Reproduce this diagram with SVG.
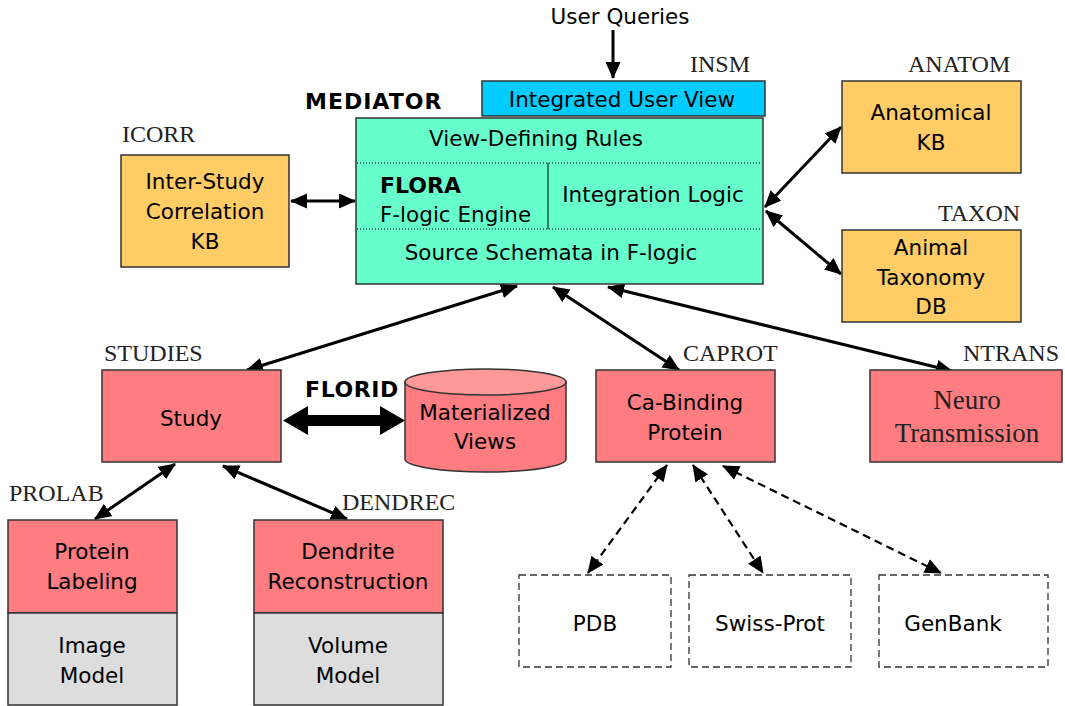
<svg xmlns="http://www.w3.org/2000/svg" width="1065" height="706" viewBox="0 0 1065 706">
<defs>
<style>
.t{font-family:"DejaVu Sans",Verdana,sans-serif;font-size:21.5px;fill:#000;text-anchor:middle}
.b{font-family:"DejaVu Sans",Verdana,sans-serif;font-size:22px;font-weight:bold;fill:#000}
.s{font-family:"Liberation Serif","Times New Roman",serif;font-size:24px;fill:#222}
.box{stroke:#333;stroke-width:1.5}
.or{fill:#FFCC66}
.pk{fill:#FF7C80}
.gy{fill:#DDDDDD}
.dash{fill:#fff;stroke:#333;stroke-width:1.3;stroke-dasharray:7,4}
.c{stroke:#000;stroke-width:3;fill:none}
.cd{stroke:#000;stroke-width:2.2;fill:none;stroke-dasharray:8,5}
.dot{stroke:#000;stroke-width:1;stroke-dasharray:1,2}
</style>
<marker id="ah" markerUnits="userSpaceOnUse" markerWidth="18" markerHeight="16" refX="16" refY="7.5" orient="auto-start-reverse" viewBox="0 0 18 16">
<path d="M0,0 L17,7.5 L0,15 z" fill="#000"/>
</marker>
</defs>

<g id="connectors">
<line class="c" x1="613" y1="30" x2="613" y2="78" marker-end="url(#ah)"/>
<line class="c" x1="291" y1="201" x2="355" y2="201" marker-start="url(#ah)" marker-end="url(#ah)"/>
<line class="c" x1="765" y1="207" x2="841" y2="127" marker-start="url(#ah)" marker-end="url(#ah)"/>
<line class="c" x1="766" y1="211" x2="841" y2="274" marker-start="url(#ah)" marker-end="url(#ah)"/>
<line class="c" x1="517" y1="286" x2="247" y2="370" marker-start="url(#ah)" marker-end="url(#ah)"/>
<line class="c" x1="553" y1="287" x2="679" y2="370" marker-start="url(#ah)" marker-end="url(#ah)"/>
<line class="c" x1="608" y1="287" x2="952" y2="371" marker-start="url(#ah)" marker-end="url(#ah)"/>
<line class="c" x1="175" y1="464" x2="95" y2="519" marker-start="url(#ah)" marker-end="url(#ah)"/>
<line class="c" x1="223" y1="466" x2="347" y2="519" marker-start="url(#ah)" marker-end="url(#ah)"/>
<line class="cd" x1="667" y1="465" x2="588" y2="573" marker-start="url(#ah)" marker-end="url(#ah)"/>
<line class="cd" x1="693" y1="465" x2="763" y2="573" marker-start="url(#ah)" marker-end="url(#ah)"/>
<line class="cd" x1="723" y1="466" x2="941" y2="573" marker-start="url(#ah)" marker-end="url(#ah)"/>
<polygon points="283,420.5 308,406 308,415 380,415 380,406 405,420.5 380,435 380,426 308,426 308,435" fill="#000"/>
</g>

<g id="userqueries">
<text class="t" x="620" y="24">User Queries</text>
</g>

<g id="insm">
<text class="s" x="690" y="72">INSM</text>
<rect class="box" x="482" y="81" width="283" height="35" fill="#00CCFF"/>
<text class="t" x="622" y="107">Integrated User View</text>
</g>

<g id="mediator">
<text class="b" x="305" y="109" style="letter-spacing:1px">MEDIATOR</text>
<rect class="box" x="356" y="118" width="407" height="166" fill="#66FFCC" stroke="#555"/>
<line class="dot" x1="357" y1="163" x2="762" y2="163"/>
<line class="dot" x1="357" y1="229" x2="762" y2="229"/>
<line x1="548" y1="163" x2="548" y2="229" stroke="#000" stroke-width="1"/>
<text class="t" x="536" y="146">View-Defining Rules</text>
<text class="b" x="380" y="193">FLORA</text>
<text class="t" x="380" y="222" style="text-anchor:start">F-logic Engine</text>
<text class="t" x="653" y="202">Integration Logic</text>
<text class="t" x="551" y="260">Source Schemata in F-logic</text>
</g>

<g id="icorr">
<text class="s" x="122" y="142">ICORR</text>
<rect class="box or" x="121" y="155" width="168" height="112"/>
<text class="t" x="205" y="189">Inter-Study</text>
<text class="t" x="205" y="219">Correlation</text>
<text class="t" x="205" y="249">KB</text>
</g>

<g id="anatom">
<text class="s" x="908" y="72">ANATOM</text>
<rect class="box or" x="842" y="81" width="179" height="92"/>
<text class="t" x="931" y="120">Anatomical</text>
<text class="t" x="931" y="150">KB</text>
</g>

<g id="taxon">
<text class="s" x="938" y="221">TAXON</text>
<rect class="box or" x="842" y="230" width="179" height="92"/>
<text class="t" x="931" y="255">Animal</text>
<text class="t" x="931" y="285">Taxonomy</text>
<text class="t" x="931" y="314">DB</text>
</g>

<g id="studies">
<text class="s" x="104" y="361">STUDIES</text>
<rect class="box pk" x="102" y="370" width="179" height="92"/>
<text class="t" x="191" y="426">Study</text>
</g>

<g id="florid">
<text class="b" x="305" y="397" style="letter-spacing:0.6px">FLORID</text>
</g>

<g id="matviews">
<path class="box pk" d="M405,382 L405,459 A80.5,13 0 0 0 566,459 L566,382 Z"/>
<ellipse class="box" cx="485.5" cy="382" rx="80.5" ry="13" fill="#FF9999"/>
<text class="t" x="485" y="420">Materialized</text>
<text class="t" x="485" y="449">Views</text>
</g>

<g id="caprot">
<text class="s" x="683" y="361">CAPROT</text>
<rect class="box pk" x="596" y="370" width="179" height="92"/>
<text class="t" x="685" y="410">Ca-Binding</text>
<text class="t" x="685" y="440">Protein</text>
</g>

<g id="ntrans">
<text class="s" x="963" y="361">NTRANS</text>
<rect class="box pk" x="870" y="370" width="192" height="92"/>
<text class="s" x="967" y="409" style="font-size:27px;text-anchor:middle">Neuro</text>
<text class="s" x="967" y="442" style="font-size:27px;text-anchor:middle">Transmission</text>
</g>

<g id="prolab">
<text class="s" x="9" y="501">PROLAB</text>
<rect class="box pk" x="8" y="520" width="169" height="93"/>
<rect class="box gy" x="8" y="613" width="169" height="92"/>
<text class="t" x="92" y="559">Protein</text>
<text class="t" x="92" y="589">Labeling</text>
<text class="t" x="92" y="653">Image</text>
<text class="t" x="92" y="683">Model</text>
</g>

<g id="dendrec">
<text class="s" x="342" y="510">DENDREC</text>
<rect class="box pk" x="254" y="520" width="189" height="93"/>
<rect class="box gy" x="254" y="613" width="189" height="92"/>
<text class="t" x="348" y="559">Dendrite</text>
<text class="t" x="348" y="589">Reconstruction</text>
<text class="t" x="348" y="653">Volume</text>
<text class="t" x="348" y="683">Model</text>
</g>

<g id="pdb">
<rect class="dash" x="519" y="575" width="152" height="92"/>
<text class="t" x="595" y="631">PDB</text>
</g>

<g id="swissprot">
<rect class="dash" x="689" y="575" width="162" height="92"/>
<text class="t" x="770" y="631">Swiss-Prot</text>
</g>

<g id="genbank">
<rect class="dash" x="879" y="575" width="169" height="92"/>
<text class="t" x="953" y="631">GenBank</text>
</g>
</svg>
